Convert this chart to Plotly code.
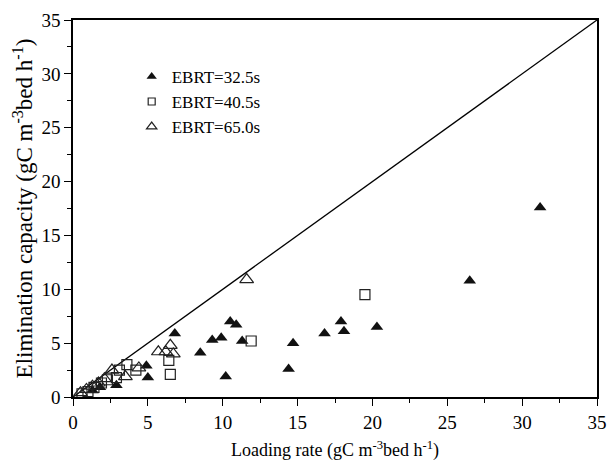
import plotly.graph_objects as go

# EBRT = 32.5 s (filled triangles)
x_325 = [1.3, 1.8, 2.9, 4.9, 5.0, 6.8, 8.5, 9.3, 9.9, 10.2, 10.5, 10.9, 11.3,
         14.4, 14.7, 16.8, 17.9, 18.1, 20.3, 26.5, 31.2]
y_325 = [0.6, 0.9, 1.1, 2.9, 1.8, 5.9, 4.1, 5.3, 5.5, 1.9, 7.0, 6.7, 5.2,
         2.6, 5.0, 5.9, 7.0, 6.1, 6.5, 10.8, 17.6]

# EBRT = 40.5 s (open squares)
x_405 = [0.6, 1.0, 1.4, 1.9, 2.3, 2.9, 3.1, 3.6, 4.2, 6.4, 6.5, 11.9, 19.5]
y_405 = [0.3, 0.5, 0.9, 1.3, 1.6, 1.8, 2.5, 3.0, 2.5, 3.4, 2.1, 5.2, 9.5]

# EBRT = 65.0 s (open triangles)
x_650 = [0.5, 0.9, 1.3, 1.7, 2.1, 2.6, 3.5, 4.4, 5.7, 6.2, 6.5, 6.7, 11.6]
y_650 = [0.4, 0.7, 1.0, 1.3, 1.7, 2.5, 1.9, 2.7, 4.2, 4.2, 4.8, 4.0, 10.9]

# 100 % removal line
x_line = [0, 35]
y_line = [0, 35]

series_names = ['EBRT=32.5s', 'EBRT=40.5s', 'EBRT=65.0s']

font_family = "Liberation Serif"

markers = [
    dict(symbol='triangle-up', color='#111111', line=dict(width=0)),
    dict(symbol='square-open', color='#222222', line=dict(width=1.2)),
    dict(symbol='triangle-up-open', color='#222222', line=dict(width=1.2)),
]
plot_sizes = [11, 10, 12]
legend_sizes = [9, 7, 9]

fig = go.Figure()
fig.add_trace(go.Scatter(x=x_line, y=y_line, mode='lines', showlegend=False,
                         line=dict(color='black', width=1.3)))

for xs, ys, name, mk, ps in zip([x_325, x_405, x_650], [y_325, y_405, y_650],
                                series_names, markers, plot_sizes):
    fig.add_trace(go.Scatter(x=xs, y=ys, mode='markers', name=name, showlegend=False,
                             marker=dict(size=ps, **mk)))

# legend-only traces so the legend symbols are smaller than the plotted ones
for name, mk, ls in zip(series_names, markers, legend_sizes):
    fig.add_trace(go.Scatter(x=[None], y=[None], mode='markers', name=name,
                             marker=dict(size=ls, **mk)))

axis_style = dict(range=[0, 35], dtick=5, tick0=0, showgrid=False, zeroline=False,
                  showline=True, linecolor='black', linewidth=1.5, mirror=True,
                  ticks='outside', ticklen=7, tickwidth=1.3, tickcolor='black',
                  minor=dict(dtick=2.5, ticks='outside', ticklen=4, tickwidth=1.2,
                             tickcolor='black', showgrid=False),
                  tickfont=dict(family=font_family, size=19, color='black'),
                  automargin=False)

fig.update_xaxes(**axis_style,
                 title=dict(text='Loading rate (gC m<sup>-3</sup>bed h<sup>-1</sup>)',
                            font=dict(family=font_family, size=18, color='black'),
                            standoff=12))
fig.update_yaxes(**axis_style,
                 title=dict(text='Elimination capacity (gC m<sup>-3</sup>bed h<sup>-1</sup>)',
                            font=dict(family=font_family, size=23, color='black'),
                            standoff=2))

fig.update_layout(width=610, height=464, margin=dict(l=73, r=13, t=20, b=67),
                  plot_bgcolor='white', paper_bgcolor='white',
                  font=dict(family=font_family, size=17, color='black'),
                  legend=dict(x=0.112, y=0.897, xanchor='left', yanchor='top',
                              bgcolor='rgba(0,0,0,0)', tracegroupgap=0,
                              font=dict(family=font_family, size=17, color='black')))

# drop the default page margin so the figure sits at the window corner
fig.write_html("out.html", config={'displayModeBar': False},
               post_script="document.body.style.margin='0';")
